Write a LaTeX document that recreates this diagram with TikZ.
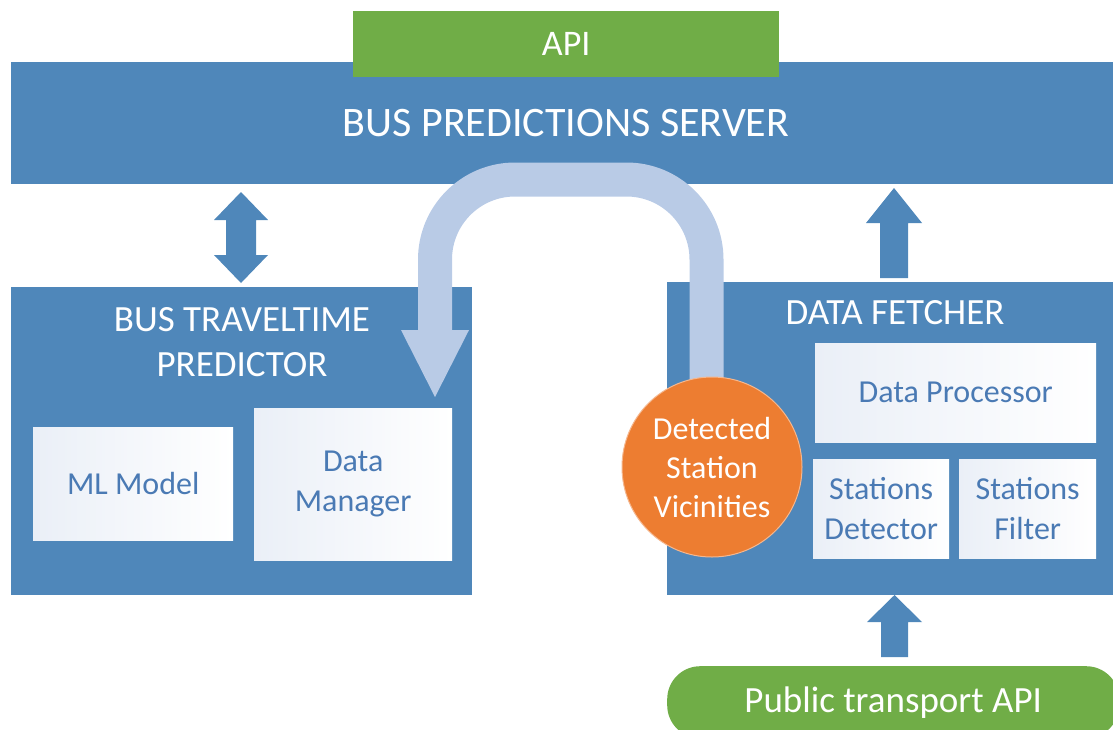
\documentclass[tikz,border=0pt]{standalone}
\usepackage{fontspec}
\setmainfont{Carlito}
\definecolor{blk}{RGB}{79,135,186}
\definecolor{grn}{RGB}{112,173,71}
\definecolor{lblue}{RGB}{185,203,230}
\definecolor{org}{RGB}{237,125,49}
\definecolor{txtb}{RGB}{74,122,180}
\definecolor{tint}{RGB}{234,239,247}
\tikzset{
  bigbox/.style={fill=blk, draw=none, anchor=north west, inner sep=0pt},
  whitebox/.style={shading=axis, shading angle=-60, left color=tint, right color=white, draw=none, anchor=north west,
     inner sep=0pt, text=txtb, align=center, font=\fontsize{32}{40}\selectfont},
  titletext/.style={text=white, align=center, font=\fontsize{37}{45}\selectfont},
  blockarrow/.style={fill=blk, draw=none},
}
\begin{document}
\begin{tikzpicture}[x=1pt,y=-1pt]
\useasboundingbox (0,0) rectangle (1113,729);
% server
\node[bigbox, minimum width=1102pt, minimum height=122pt] (server) at (11,62) {};
\node[fill=grn, draw=none, anchor=north west, inner sep=0pt, minimum width=426pt, minimum height=66pt,
      text=white, font=\fontsize{36}{40}\selectfont] (api) at (353,11) {API};
\node[text=white, font=\fontsize{42}{48}\selectfont] (servertitle) at (566,123) {BUS PREDICTIONS SERVER};
% predictor
\node[bigbox, minimum width=461pt, minimum height=308pt] (pred) at (11,287) {};
\node[titletext] (predtitle) at (242,342) {BUS TRAVELTIME\\PREDICTOR};
\node[whitebox, minimum width=200pt, minimum height=113pt] (ml) at (33,427) {ML Model};
\node[whitebox, minimum width=198pt, minimum height=152pt] (dm) at (254,408) {Data\\Manager};
% fetcher
\node[bigbox, minimum width=446pt, minimum height=313pt] (fetch) at (667,282) {};
\node[titletext] (fetchtitle) at (895,313) {DATA FETCHER};
\node[whitebox, minimum width=281pt, minimum height=99pt] (proc) at (815,343) {Data Processor};
\node[whitebox, minimum width=136pt, minimum height=99pt] (det) at (813,459) {Stations\\Detector};
\node[whitebox, minimum width=137pt, minimum height=99pt] (filt) at (959,459) {Stations\\Filter};
% public transport API
\node[fill=grn, draw=none, rounded corners=33pt, anchor=north west, inner sep=0pt,
      minimum width=452pt, minimum height=72pt, text=white,
      font=\fontsize{37}{42}\selectfont] (pub) at (667,666) {Public transport API};
% block arrows
\fill[blockarrow] (241,192) -- (268,220) -- (256,220) -- (256,255) -- (268,255) -- (241,283)
   -- (214,255) -- (226,255) -- (226,220) -- (214,220) -- cycle;
\fill[blockarrow] (894,188) -- (922,223) -- (908,223) -- (908,278) -- (880,278) -- (880,223) -- (866,223) -- cycle;
\fill[blockarrow] (894.5,595) -- (922,622) -- (908,622) -- (908,657) -- (881,657) -- (881,622) -- (867,622) -- cycle;
% U arrow
\draw[line width=34pt, lblue, rounded corners=80pt] (706.5,410) -- (706.5,179.5) -- (435,179.5) -- (435,332);
\fill[lblue] (401,330) -- (469,330) -- (435,397) -- cycle;
% circle
\node[circle, fill=org, draw=org!55!white, line width=1pt, minimum size=180pt, inner sep=0pt,
      text=white, align=center, font=\fontsize{32}{39}\selectfont] (vic) at (712,467) {Detected\\Station\\Vicinities};
\end{tikzpicture}
\end{document}
